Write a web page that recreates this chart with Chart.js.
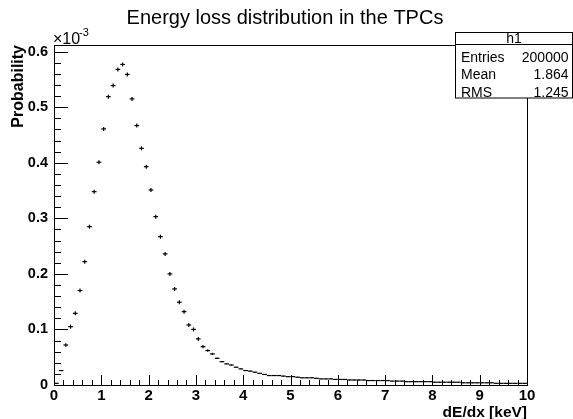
<!DOCTYPE html>
<html>
<head>
<meta charset="utf-8">
<title>Energy loss distribution in the TPCs</title>
<script src="https://cdn.jsdelivr.net/npm/chart.js@4.4.1/dist/chart.umd.min.js"></script>
<style>
    html, body { margin: 0; padding: 0; background: #fff; }
    canvas { display: block; }
</style>
</head>
<body>
<canvas id="h1" width="573" height="419"></canvas>
<script>
// Histogram h1: 100 bins of 0.1 keV, contents in units of 1e-3
const binCenters = [
    0.05, 0.15, 0.25, 0.35, 0.45, 0.55, 0.65, 0.75, 0.85, 0.95,
    1.05, 1.15, 1.25, 1.35, 1.45, 1.55, 1.65, 1.75, 1.85, 1.95,
    2.05, 2.15, 2.25, 2.35, 2.45, 2.55, 2.65, 2.75, 2.85, 2.95,
    3.05, 3.15, 3.25, 3.35, 3.45, 3.55, 3.65, 3.75, 3.85, 3.95,
    4.05, 4.15, 4.25, 4.35, 4.45, 4.55, 4.65, 4.75, 4.85, 4.95,
    5.05, 5.15, 5.25, 5.35, 5.45, 5.55, 5.65, 5.75, 5.85, 5.95,
    6.05, 6.15, 6.25, 6.35, 6.45, 6.55, 6.65, 6.75, 6.85, 6.95,
    7.05, 7.15, 7.25, 7.35, 7.45, 7.55, 7.65, 7.75, 7.85, 7.95,
    8.05, 8.15, 8.25, 8.35, 8.45, 8.55, 8.65, 8.75, 8.85, 8.95,
    9.05, 9.15, 9.25, 9.35, 9.45, 9.55, 9.65, 9.75, 9.85, 9.95
];

const probability = [
    0.003, 0.026, 0.072, 0.105, 0.129, 0.170, 0.222, 0.285, 0.348, 0.401,
    0.461, 0.519, 0.539, 0.568, 0.577, 0.559, 0.515, 0.467, 0.426, 0.393,
    0.351, 0.303, 0.267, 0.236, 0.200, 0.173, 0.149, 0.132, 0.108, 0.100,
    0.083, 0.069, 0.062, 0.056, 0.048, 0.042, 0.038, 0.036, 0.032, 0.029,
    0.026, 0.025, 0.023, 0.021, 0.019, 0.017, 0.017, 0.017, 0.016, 0.015,
    0.015, 0.014, 0.013, 0.013, 0.013, 0.012, 0.011, 0.011, 0.011, 0.010,
    0.010, 0.010, 0.009, 0.009, 0.009, 0.009, 0.008, 0.008, 0.008, 0.008,
    0.008, 0.007, 0.007, 0.007, 0.006, 0.006, 0.006, 0.006, 0.006, 0.006,
    0.005, 0.005, 0.005, 0.005, 0.005, 0.005, 0.004, 0.004, 0.004, 0.004,
    0.004, 0.004, 0.004, 0.003, 0.003, 0.003, 0.003, 0.003, 0.003, 0.003
];

const xTickValues = [0, 1, 2, 3, 4, 5, 6, 7, 8, 9, 10];
const yTickValues = [0, 0.1, 0.2, 0.3, 0.4, 0.5, 0.6];

const statsLabels = ['Entries', 'Mean', 'RMS'];
const statsValues = ['200000', '1.864', '1.245'];

const FONT = '"Liberation Sans", Arial, Helvetica, sans-serif';

const points = binCenters.map((x, i) => ({ x: x, y: probability[i] }));

// ROOT style frame, inner ticks, titles and stats box
const rootDecorations = {
    id: 'rootDecorations',
    afterDraw(chart) {
        const { ctx, chartArea: a, scales: { x, y } } = chart;
        ctx.save();
        ctx.strokeStyle = '#000';
        ctx.fillStyle = '#000';
        ctx.lineWidth = 1;

        // frame
        ctx.strokeRect(a.left + 0.5, a.top + 0.5, a.right - a.left, a.bottom - a.top);

        // y ticks (major every 0.1, minor every 0.02)
        ctx.beginPath();
        for (let i = 0; i <= 30; i++) {
            const py = Math.round(y.getPixelForValue(i * 0.02)) + 0.5;
            const len = i % 5 === 0 ? 14 : 7;
            ctx.moveTo(a.left, py);
            ctx.lineTo(a.left + len, py);
        }
        // x ticks (major every 1, minor every 0.2)
        for (let i = 0; i <= 50; i++) {
            const px = Math.round(x.getPixelForValue(i * 0.2)) + 0.5;
            const len = i % 5 === 0 ? 10 : 5;
            ctx.moveTo(px, a.bottom);
            ctx.lineTo(px, a.bottom - len);
        }
        ctx.stroke();

        // exponent
        ctx.textAlign = 'left';
        ctx.textBaseline = 'alphabetic';
        ctx.font = '16px ' + FONT;
        ctx.fillText('\u00d710', 53, 44);
        ctx.font = '11px ' + FONT;
        ctx.fillText('-3', 79, 36);

        // title
        ctx.textAlign = 'center';
        ctx.font = '20px ' + FONT;
        ctx.fillText('Energy loss distribution in the TPCs', 285, 24);

        // axis titles
        ctx.font = 'bold 15.5px ' + FONT;
        ctx.textAlign = 'right';
        ctx.fillText('dE/dx [keV]', 527, 417);
        ctx.save();
        ctx.translate(23, 45);
        ctx.rotate(-Math.PI / 2);
        ctx.font = 'bold 16px ' + FONT;
        ctx.fillText('Probability', 0, 0);
        ctx.restore();

        // stats box
        const bx = 455.5, by = 32.5, bw = 117, bh = 65.5;
        ctx.fillStyle = '#fff';
        ctx.fillRect(bx, by, bw, bh);
        ctx.strokeRect(bx, by, bw, bh);
        ctx.beginPath();
        ctx.moveTo(bx, 44.5);
        ctx.lineTo(bx + bw, 44.5);
        ctx.stroke();
        ctx.fillStyle = '#000';
        ctx.font = '14px ' + FONT;
        ctx.textAlign = 'center';
        ctx.fillText('h1', 514, 43);
        const baselines = [61.5, 79, 96.5];
        statsLabels.forEach((label, i) => {
            ctx.textAlign = 'left';
            ctx.fillText(label, 461, baselines[i]);
            ctx.textAlign = 'right';
            ctx.fillText(statsValues[i], 568.5, baselines[i]);
        });

        ctx.restore();
    }
};

new Chart(document.getElementById('h1').getContext('2d'), {
    type: 'scatter',
    data: {
        datasets: [{
            // horizontal bar of each marker: the bin width
            data: points,
            showLine: false,
            pointStyle: 'line',
            pointRadius: 2.35,
            pointBorderWidth: 1.2,
            pointBorderColor: '#000',
            pointBackgroundColor: '#000',
            pointHoverRadius: 2.35
        }, {
            // vertical error bar
            data: points,
            showLine: false,
            pointStyle: 'line',
            pointRotation: 90,
            pointRadius: function(context) {
                const v = context.raw ? context.raw.y : 0;
                return Math.min(2, Math.max(0.4, (v - 0.03) * 40));
            },
            pointBorderWidth: 1.2,
            pointBorderColor: '#000',
            pointBackgroundColor: '#000'
        }]
    },
    options: {
        responsive: false,
        animation: false,
        events: [],
        layout: {
            padding: { left: 0, right: 46, top: 45, bottom: 0 }
        },
        plugins: {
            legend: { display: false },
            tooltip: { enabled: false },
            title: { display: false }
        },
        scales: {
            x: {
                type: 'linear',
                min: 0,
                max: 10,
                afterFit: function(scale) { scale.height = 34; },
                afterBuildTicks: function(scale) {
                    scale.ticks = xTickValues.map(v => ({ value: v }));
                },
                grid: { display: false, drawTicks: false },
                border: { display: false },
                ticks: {
                    color: '#000',
                    padding: 2,
                    autoSkip: false,
                    maxRotation: 0,
                    font: { family: FONT, size: 15, weight: 'bold' },
                    callback: v => String(v)
                }
            },
            y: {
                type: 'linear',
                min: 0,
                max: 0.612,
                afterFit: function(scale) { scale.width = 54; },
                afterBuildTicks: function(scale) {
                    scale.ticks = yTickValues.map(v => ({ value: v }));
                },
                grid: { display: false, drawTicks: false },
                border: { display: false },
                ticks: {
                    color: '#000',
                    padding: 6,
                    autoSkip: false,
                    font: { family: FONT, size: 14.5, weight: 'bold' },
                    callback: v => (v === 0 ? '0' : v.toFixed(1))
                }
            }
        }
    },
    plugins: [rootDecorations]
});
</script>
</body>
</html>
